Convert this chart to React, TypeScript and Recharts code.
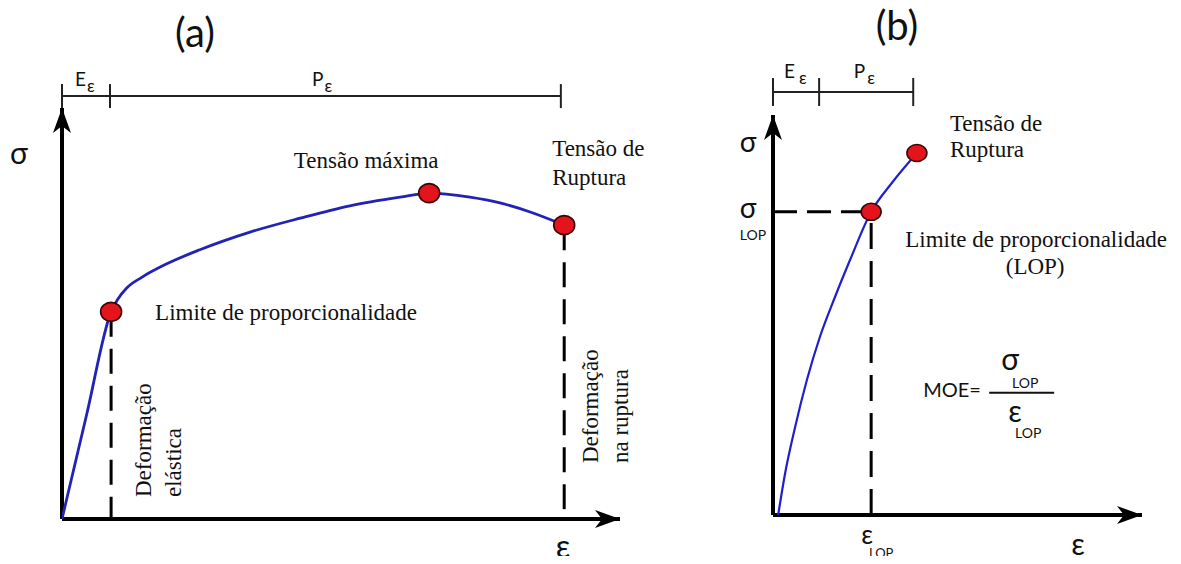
import React from 'react';
import { ComposedChart, Line, XAxis, YAxis, ReferenceLine, ReferenceDot, Label } from 'recharts';

// (a) full stress–strain curve, arbitrary units (strain 0–100, stress 0–100)
const strainA = [0, 4.4, 8.8, 9.9, 11.6, 14.3, 18.5, 24.7, 33.7, 42.7, 51.6, 60.6, 65.8, 73.1, 78.5, 83.9, 90.0];
const stressA = [0, 25.3, 50.4, 53.3, 56.2, 58.8, 61.9, 65.5, 69.8, 73.2, 76.2, 78.3, 79.3, 78.3, 76.9, 74.7, 71.5];
const lopA = 2; // limite de proporcionalidade
const maxA = 12; // tensão máxima
const rupA = 16; // ruptura
const bracketA = [0, 8.6, 89.4]; // E_ε | P_ε

// (b) curve up to rupture, with LOP marked
const strainB = [1.4, 3.3, 6.0, 9.2, 12.7, 16.8, 20.9, 26.6, 32.2, 39.0];
const stressB = [0, 10.5, 22, 33.8, 44.5, 54.5, 63.8, 75.8, 83, 90.5];
const lopB = 7;
const rupB = 9;
const bracketB = [0, 12.5, 38];

const rowsA = strainA.map((e, i) => ({ strain: e, stress: stressA[i] }));
const rowsB = strainB.map((e, i) => ({ strain: e, stress: stressB[i] }));

const SERIF = "'Liberation Serif', 'Times New Roman', serif";
const SANS = "Lato, 'Open Sans', sans-serif";
const INK = '#111';

type Note = {
  text: string;
  dx: number;
  dy: number;
  size: number;
  family?: string;
  anchor?: 'start' | 'middle' | 'end';
  vertical?: boolean;
};

// label content: a few text pieces placed around the anchor point
const notes = (items: Note[], rules: { x1: number; x2: number; dy: number }[] = []) => (props: any) => {
  const vb = props.viewBox || { x: 0, y: 0, width: 0, height: 0 };
  const cx = vb.x + (vb.width || 0) / 2;
  const cy = vb.y + (vb.height || 0) / 2;
  return (
    <g>
      {items.map((n, i) => {
        const x = cx + n.dx;
        const y = cy + n.dy;
        return (
          <text
            key={i}
            x={x}
            y={y}
            fontSize={n.size}
            fontFamily={n.family || SERIF}
            textAnchor={n.anchor || 'start'}
            fill={INK}
            transform={n.vertical ? `rotate(-90 ${x} ${y})` : undefined}
          >
            {n.text}
          </text>
        );
      })}
      {rules.map((r, i) => (
        <line key={'r' + i} x1={cx + r.x1} x2={cx + r.x2} y1={cy + r.dy} y2={cy + r.dy} stroke={INK} strokeWidth={2} />
      ))}
    </g>
  );
};

const arrowRight = (p: any) => (
  <polygon
    points={`${p.cx},${p.cy} ${p.cx - 25},${p.cy - 9} ${p.cx - 18},${p.cy} ${p.cx - 25},${p.cy + 9}`}
    fill="#000"
  />
);
const arrowUp = (p: any) => (
  <polygon
    points={`${p.cx},${p.cy} ${p.cx - 9},${p.cy + 25} ${p.cx},${p.cy + 18} ${p.cx + 9},${p.cy + 25}`}
    fill="#000"
  />
);
const tick = (h: number) => (p: any) => (
  <line x1={p.cx} x2={p.cx} y1={p.cy - h} y2={p.cy + h} stroke="#222" strokeWidth={2} />
);
const marker = (rx: number, ry: number) => (p: any) => (
  <ellipse cx={p.cx} cy={p.cy} rx={rx} ry={ry} fill="#e3141b" stroke="#3a0505" strokeWidth={1.6} />
);

const sub = (main: string, dxMain: number, dxSub: number, dy: number) =>
  notes([
    { text: main, dx: dxMain, dy, size: 19, family: SANS, anchor: 'end' },
    { text: 'ε', dx: dxSub, dy: dy + 6, size: 17, family: SANS },
  ]);

function PanelA() {
  const level = 102.9;
  return (
    <ComposedChart
      width={690}
      height={564}
      data={rowsA}
      margin={{ top: 108, right: 70, bottom: 45, left: 62 }}
      style={{ position: 'absolute', left: 0, top: 0 }}
    >
      <XAxis type="number" dataKey="strain" domain={[0, 100]} hide allowDataOverflow />
      <YAxis type="number" domain={[0, 100]} hide allowDataOverflow />

      {/* bracket E_ε / P_ε */}
      <ReferenceLine segment={[{ x: bracketA[0], y: level }, { x: bracketA[2], y: level }]} stroke="#222" strokeWidth={2} ifOverflow="visible" />
      {bracketA.map((t, i) => (
        <ReferenceDot key={'ta' + i} x={t} y={level} r={0} shape={tick(12)} ifOverflow="visible" />
      ))}
      <ReferenceDot x={(bracketA[0] + bracketA[1]) / 2} y={level} r={0} ifOverflow="visible" label={<Label content={sub('E', 0, 1, -10)} />} />
      <ReferenceDot x={(bracketA[1] + bracketA[2]) / 2} y={level} r={0} ifOverflow="visible" label={<Label content={sub('P', -12, -11, -10)} />} />

      {/* dashed drops */}
      <ReferenceLine segment={[{ x: strainA[lopA], y: stressA[lopA] }, { x: strainA[lopA], y: 0 }]} stroke="#000" strokeWidth={3} strokeDasharray="25 12" ifOverflow="visible" />
      <ReferenceLine segment={[{ x: strainA[rupA], y: stressA[rupA] }, { x: strainA[rupA], y: 0 }]} stroke="#000" strokeWidth={3} strokeDasharray="25 12" ifOverflow="visible" />

      {/* axes */}
      <ReferenceLine segment={[{ x: 0, y: 0 }, { x: 100, y: 0 }]} stroke="#000" strokeWidth={4} ifOverflow="visible" />
      <ReferenceLine segment={[{ x: 0, y: 0 }, { x: 0, y: 100 }]} stroke="#000" strokeWidth={4} ifOverflow="visible" />
      <ReferenceDot x={100} y={0} r={0} shape={arrowRight} ifOverflow="visible"
        label={<Label content={notes([{ text: 'ε', dx: -57, dy: 39, size: 32, family: SANS, anchor: 'middle' }])} />} />
      <ReferenceDot x={0} y={100} r={0} shape={arrowUp} ifOverflow="visible"
        label={<Label content={notes([
          { text: 'σ', dx: -43, dy: 56, size: 30, family: SANS, anchor: 'middle' },
          { text: '(a)', dx: 133, dy: -61, size: 40, family: SANS, anchor: 'middle' },
        ])} />} />

      <Line type="monotone" dataKey="stress" stroke="#2222b5" strokeWidth={2.8} dot={false} activeDot={false} isAnimationActive={false} />

      {/* vertical captions at the foot of each drop */}
      <ReferenceDot x={strainA[lopA]} y={0} r={0} ifOverflow="visible"
        label={<Label content={notes([
          { text: 'Deformação', dx: 40, dy: -22, size: 23, vertical: true },
          { text: 'elástica', dx: 70, dy: -22, size: 23, vertical: true },
        ])} />} />
      <ReferenceDot x={strainA[rupA]} y={0} r={0} ifOverflow="visible"
        label={<Label content={notes([
          { text: 'Deformação', dx: 34, dy: -56, size: 23, vertical: true },
          { text: 'na ruptura', dx: 64, dy: -56, size: 23, vertical: true },
        ])} />} />

      <ReferenceDot x={strainA[lopA]} y={stressA[lopA]} r={10} shape={marker(10.5, 9.5)} ifOverflow="visible"
        label={<Label content={notes([{ text: 'Limite de proporcionalidade', dx: 44, dy: 8, size: 23 }])} />} />
      <ReferenceDot x={strainA[maxA]} y={stressA[maxA]} r={10} shape={marker(10.5, 9.5)} ifOverflow="visible"
        label={<Label content={notes([{ text: 'Tensão máxima', dx: -63, dy: -25, size: 23, anchor: 'middle' }])} />} />
      <ReferenceDot x={strainA[rupA]} y={stressA[rupA]} r={10} shape={marker(10.5, 9.5)} ifOverflow="visible"
        label={<Label content={notes([
          { text: 'Tensão de', dx: -12, dy: -69, size: 23 },
          { text: 'Ruptura', dx: -12, dy: -40, size: 23 },
        ])} />} />
    </ComposedChart>
  );
}

function PanelB() {
  const level = 105.75;
  return (
    <ComposedChart
      width={491}
      height={564}
      data={rowsB}
      margin={{ top: 115, right: 39, bottom: 49, left: 83 }}
      style={{ position: 'absolute', left: 690, top: 0 }}
    >
      <XAxis type="number" dataKey="strain" domain={[0, 100]} hide allowDataOverflow />
      <YAxis type="number" domain={[0, 100]} hide allowDataOverflow />

      <ReferenceLine segment={[{ x: bracketB[0], y: level }, { x: bracketB[2], y: level }]} stroke="#222" strokeWidth={2} ifOverflow="visible" />
      {bracketB.map((t, i) => (
        <ReferenceDot key={'tb' + i} x={t} y={level} r={0} shape={tick(14)} ifOverflow="visible" />
      ))}
      <ReferenceDot x={(bracketB[0] + bracketB[1]) / 2} y={level} r={0} ifOverflow="visible" label={<Label content={sub('E', -1, 3, -14)} />} />
      <ReferenceDot x={(bracketB[1] + bracketB[2]) / 2} y={level} r={0} ifOverflow="visible" label={<Label content={sub('P', -1, 1, -14)} />} />

      {/* σ_LOP and ε_LOP guides */}
      <ReferenceLine segment={[{ x: 0, y: stressB[lopB] }, { x: strainB[lopB], y: stressB[lopB] }]} stroke="#000" strokeWidth={3} strokeDasharray="24 10" ifOverflow="visible" />
      <ReferenceLine segment={[{ x: strainB[lopB], y: 0 }, { x: strainB[lopB], y: stressB[lopB] }]} stroke="#000" strokeWidth={3} strokeDasharray="26 12" ifOverflow="visible" />

      <ReferenceLine segment={[{ x: 0, y: 0 }, { x: 100, y: 0 }]} stroke="#000" strokeWidth={4} ifOverflow="visible" />
      <ReferenceLine segment={[{ x: 0, y: 0 }, { x: 0, y: 100 }]} stroke="#000" strokeWidth={4} ifOverflow="visible" />
      <ReferenceDot x={100} y={0} r={0} shape={arrowRight} ifOverflow="visible"
        label={<Label content={notes([{ text: 'ε', dx: -64, dy: 40, size: 30, family: SANS, anchor: 'middle' }])} />} />
      <ReferenceDot x={0} y={100} r={0} shape={arrowUp} ifOverflow="visible"
        label={<Label content={notes([
          { text: 'σ', dx: -25, dy: 37, size: 28, family: SANS, anchor: 'middle' },
          { text: '(b)', dx: 124, dy: -75, size: 40, family: SANS, anchor: 'middle' },
        ])} />} />

      <ReferenceDot x={0} y={stressB[lopB]} r={0} ifOverflow="visible"
        label={<Label content={notes([
          { text: 'σ', dx: -25, dy: 6, size: 28, family: SANS, anchor: 'middle' },
          { text: 'LOP', dx: -20, dy: 28, size: 14, family: SANS, anchor: 'middle' },
        ])} />} />
      <ReferenceDot x={strainB[lopB]} y={0} r={0} ifOverflow="visible"
        label={<Label content={notes([
          { text: 'ε', dx: -4, dy: 29, size: 26, family: SANS, anchor: 'middle' },
          { text: 'LOP', dx: 10, dy: 43, size: 13, family: SANS, anchor: 'middle' },
        ])} />} />

      <Line type="monotone" dataKey="stress" stroke="#1f1fd0" strokeWidth={2.2} dot={false} activeDot={false} isAnimationActive={false} />

      <ReferenceDot x={strainB[lopB]} y={stressB[lopB]} r={10} shape={marker(10, 8.5)} ifOverflow="visible"
        label={<Label content={notes(
          [
            { text: 'Limite de proporcionalidade', dx: 165, dy: 35, size: 23, anchor: 'middle' },
            { text: '(LOP)', dx: 164, dy: 62, size: 23, anchor: 'middle' },
            { text: 'MOE=', dx: 52, dy: 185, size: 20, family: SANS },
            { text: 'σ', dx: 139, dy: 158, size: 30, family: SANS, anchor: 'middle' },
            { text: 'LOP', dx: 154, dy: 176, size: 14, family: SANS, anchor: 'middle' },
            { text: 'ε', dx: 144, dy: 210, size: 30, family: SANS, anchor: 'middle' },
            { text: 'LOP', dx: 157, dy: 226, size: 14, family: SANS, anchor: 'middle' },
          ],
          [{ x1: 118, x2: 183, dy: 181 }],
        )} />} />
      <ReferenceDot x={strainB[rupB]} y={stressB[rupB]} r={10} shape={marker(10, 8.5)} ifOverflow="visible"
        label={<Label content={notes([
          { text: 'Tensão de', dx: 33, dy: -22, size: 23 },
          { text: 'Ruptura', dx: 33, dy: 4, size: 23 },
        ])} />} />
    </ComposedChart>
  );
}

export default function App() {
  return (
    <div style={{ position: 'relative', width: 1181, height: 564, margin: -8, background: '#fff', overflow: 'hidden' }}>
      <PanelA />
      <PanelB />
    </div>
  );
}
